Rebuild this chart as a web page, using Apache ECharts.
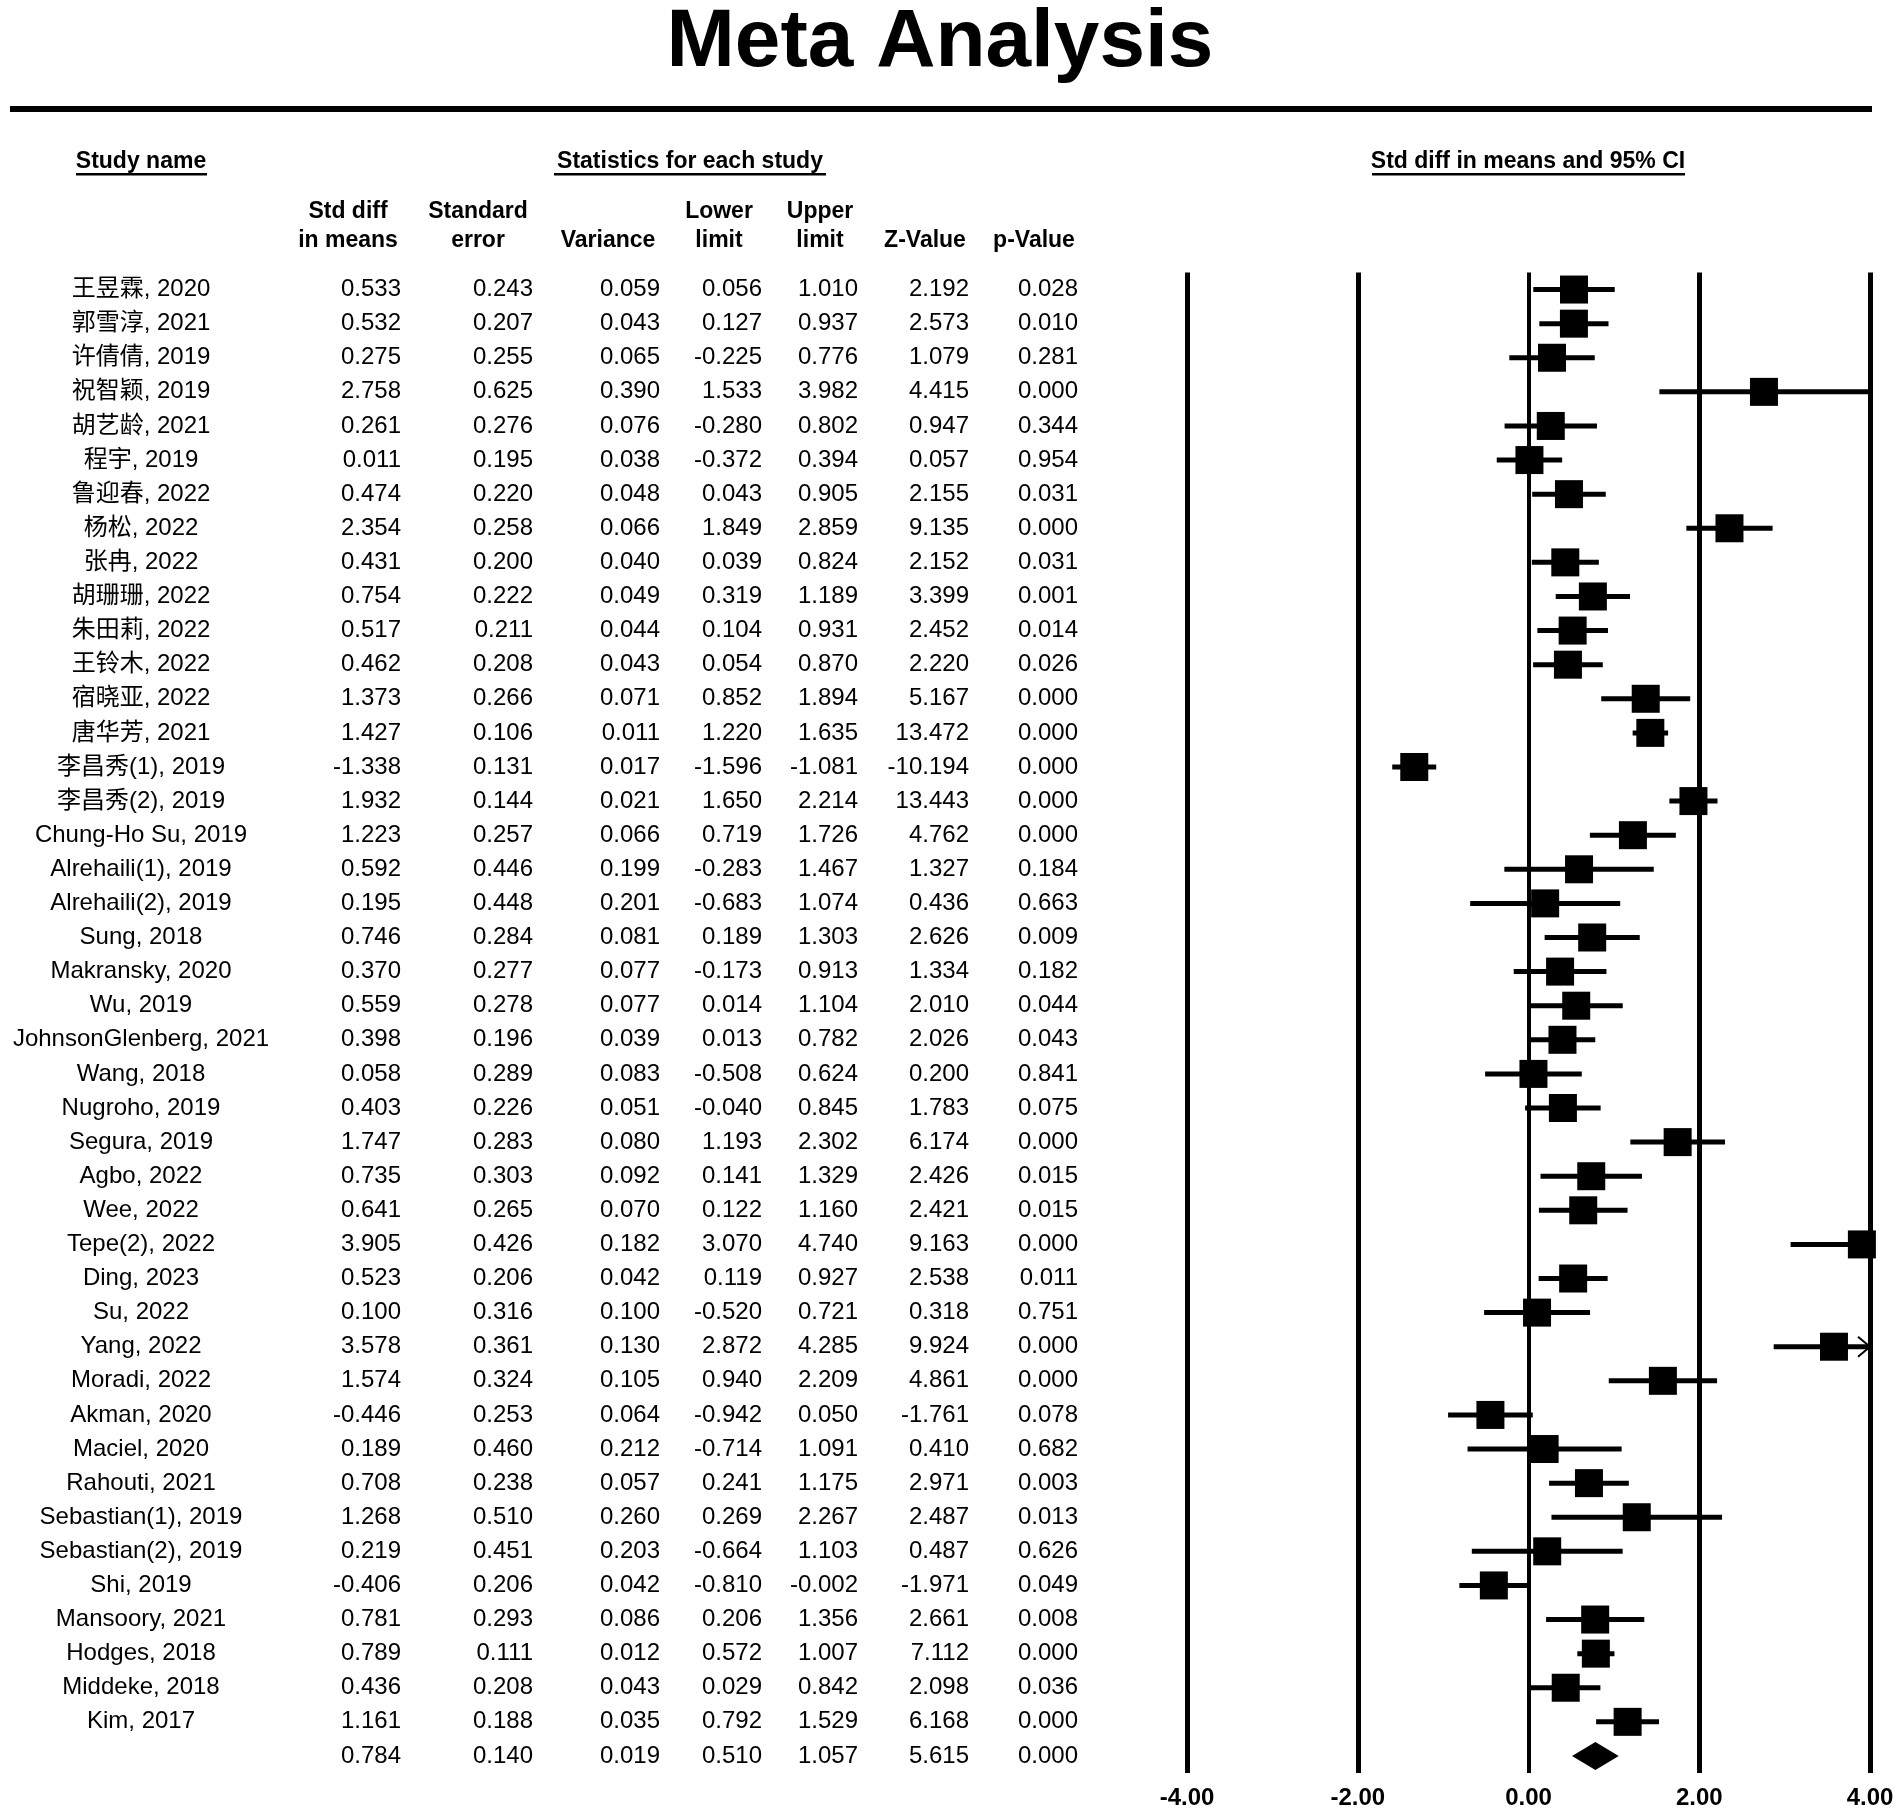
<!DOCTYPE html>
<html><head><meta charset="utf-8">
<script src="https://cdn.jsdelivr.net/npm/echarts@6/dist/echarts.min.js"></script>
<style>html,body{margin:0;padding:0;background:#fff}#c{width:1902px;height:1811px}</style>
</head><body><div id="c"></div>
<script>
const studyNames = ['王昱霖, 2020','郭雪淳, 2021','许倩倩, 2019','祝智颖, 2019','胡艺龄, 2021','程宇, 2019','鲁迎春, 2022','杨松, 2022','张冉, 2022','胡珊珊, 2022','朱田莉, 2022','王铃木, 2022','宿晓亚, 2022','唐华芳, 2021','李昌秀(1), 2019','李昌秀(2), 2019','Chung-Ho Su, 2019','Alrehaili(1), 2019','Alrehaili(2), 2019','Sung, 2018','Makransky, 2020','Wu, 2019','JohnsonGlenberg, 2021','Wang, 2018','Nugroho, 2019','Segura, 2019','Agbo, 2022','Wee, 2022','Tepe(2), 2022','Ding, 2023','Su, 2022','Yang, 2022','Moradi, 2022','Akman, 2020','Maciel, 2020','Rahouti, 2021','Sebastian(1), 2019','Sebastian(2), 2019','Shi, 2019','Mansoory, 2021','Hodges, 2018','Middeke, 2018','Kim, 2017'];
const stdDiff = [0.533,0.532,0.275,2.758,0.261,0.011,0.474,2.354,0.431,0.754,0.517,0.462,1.373,1.427,-1.338,1.932,1.223,0.592,0.195,0.746,0.370,0.559,0.398,0.058,0.403,1.747,0.735,0.641,3.905,0.523,0.100,3.578,1.574,-0.446,0.189,0.708,1.268,0.219,-0.406,0.781,0.789,0.436,1.161];
const stdErr = [0.243,0.207,0.255,0.625,0.276,0.195,0.220,0.258,0.200,0.222,0.211,0.208,0.266,0.106,0.131,0.144,0.257,0.446,0.448,0.284,0.277,0.278,0.196,0.289,0.226,0.283,0.303,0.265,0.426,0.206,0.316,0.361,0.324,0.253,0.460,0.238,0.510,0.451,0.206,0.293,0.111,0.208,0.188];
const variance = [0.059,0.043,0.065,0.390,0.076,0.038,0.048,0.066,0.040,0.049,0.044,0.043,0.071,0.011,0.017,0.021,0.066,0.199,0.201,0.081,0.077,0.077,0.039,0.083,0.051,0.080,0.092,0.070,0.182,0.042,0.100,0.130,0.105,0.064,0.212,0.057,0.260,0.203,0.042,0.086,0.012,0.043,0.035];
const lowerLimit = [0.056,0.127,-0.225,1.533,-0.280,-0.372,0.043,1.849,0.039,0.319,0.104,0.054,0.852,1.220,-1.596,1.650,0.719,-0.283,-0.683,0.189,-0.173,0.014,0.013,-0.508,-0.040,1.193,0.141,0.122,3.070,0.119,-0.520,2.872,0.940,-0.942,-0.714,0.241,0.269,-0.664,-0.810,0.206,0.572,0.029,0.792];
const upperLimit = [1.010,0.937,0.776,3.982,0.802,0.394,0.905,2.859,0.824,1.189,0.931,0.870,1.894,1.635,-1.081,2.214,1.726,1.467,1.074,1.303,0.913,1.104,0.782,0.624,0.845,2.302,1.329,1.160,4.740,0.927,0.721,4.285,2.209,0.050,1.091,1.175,2.267,1.103,-0.002,1.356,1.007,0.842,1.529];
const zValue = [2.192,2.573,1.079,4.415,0.947,0.057,2.155,9.135,2.152,3.399,2.452,2.220,5.167,13.472,-10.194,13.443,4.762,1.327,0.436,2.626,1.334,2.010,2.026,0.200,1.783,6.174,2.426,2.421,9.163,2.538,0.318,9.924,4.861,-1.761,0.410,2.971,2.487,0.487,-1.971,2.661,7.112,2.098,6.168];
const pValue = [0.028,0.010,0.281,0.000,0.344,0.954,0.031,0.000,0.031,0.001,0.014,0.026,0.000,0.000,0.000,0.000,0.000,0.184,0.663,0.009,0.182,0.044,0.043,0.841,0.075,0.000,0.015,0.015,0.000,0.011,0.751,0.000,0.000,0.078,0.682,0.003,0.013,0.626,0.049,0.008,0.000,0.036,0.000];
// overall: std diff, std err, variance, lower, upper, z, p
const summaryStats = [0.784,0.140,0.019,0.510,1.057,5.615,0.000];
const xTicks = [-4,-2,0,2,4];
const columnHeaders = [['Std diff','in means'],['Standard','error'],['','Variance'],['Lower','limit'],['Upper','limit'],['','Z-Value'],['','p-Value']];

const FONT = '"Liberation Sans", Arial, "Noto Sans CJK SC", sans-serif';
const X_MIN = -4, X_MAX = 4;
const GL = 1187, GR = 1870, GT = 272.5, GB = 1773;
const fmt3 = v => v.toFixed(3);

const numCols = [stdDiff, stdErr, variance, lowerLimit, upperLimit, zValue, pValue];
const colRight = [401, 533, 660, 762, 858, 969, 1078];
const colCenter = [348, 478, 608, 719, 820, 925, 1034];

const labelBase = {interval: 0, margin: 0, fontSize: 24, color: '#000', fontFamily: FONT, padding: [7, 0, 0, 0]};
const yAxes = [{
  type: 'category', inverse: true, data: studyNames.concat(['']), position: 'left',
  offset: GL - 141, axisLine: {show: false}, axisTick: {show: false}, splitLine: {show: false},
  axisLabel: Object.assign({align: 'center'}, labelBase)
}];
numCols.forEach((arr, k) => {
  yAxes.push({
    type: 'category', inverse: true, data: arr.map(fmt3).concat([fmt3(summaryStats[k])]), position: 'left',
    offset: GL - colRight[k], axisLine: {show: false}, axisTick: {show: false}, splitLine: {show: false},
    axisLabel: Object.assign({align: 'right'}, labelBase)
  });
});

const graphics = [
  {type: 'text', x: 940, y: 43, style: {text: 'Meta Analysis', font: 'bold 82px ' + FONT, fill: '#000', textAlign: 'center', textVerticalAlign: 'middle'}},
  {type: 'rect', shape: {x: 10, y: 106, width: 1862, height: 6}, style: {fill: '#000'}},
];
const topHeads = [['Study name', 141, 76, 207], ['Statistics for each study', 690, 554, 826], ['Std diff in means and 95% CI', 1528, 1372, 1685]];
topHeads.forEach(h => {
  graphics.push({type: 'text', x: h[1], y: 161.5, style: {text: h[0], font: 'bold 23px ' + FONT, fill: '#000', textAlign: 'center', textVerticalAlign: 'middle'}});
  graphics.push({type: 'rect', shape: {x: h[2], y: 173, width: h[3] - h[2], height: 2.5}, style: {fill: '#000'}});
});
columnHeaders.forEach((h, k) => {
  h.forEach((t, j) => {
    if (!t) return;
    graphics.push({type: 'text', x: colCenter[k], y: 211.5 + j * 29, style: {text: t, font: 'bold 23px ' + FONT, fill: '#000', textAlign: 'center', textVerticalAlign: 'middle'}});
  });
});

const whiskerData = studyNames.map((_, i) => [lowerLimit[i], upperLimit[i], i]);
const pointData = studyNames.map((_, i) => [stdDiff[i], i]);
const diamondData = [[summaryStats[3], summaryStats[0], summaryStats[4], studyNames.length]];

const chart = echarts.init(document.getElementById('c'), null, {renderer: 'canvas'});
chart.setOption({
  backgroundColor: '#fff',
  animation: false,
  graphic: graphics,
  grid: {left: GL, right: 1902 - GR, top: GT, bottom: 1811 - GB, containLabel: false},
  xAxis: {
    type: 'value', min: X_MIN, max: X_MAX, interval: 2,
    axisLine: {show: false}, axisTick: {show: false}, splitLine: {show: false},
    axisLabel: {formatter: v => v.toFixed(2), fontSize: 24, fontWeight: 'bold', color: '#000', margin: 13, fontFamily: FONT}
  },
  yAxis: yAxes,
  series: [
    {
      type: 'custom', name: 'ci', z: 2, clip: false, yAxisIndex: 0,
      data: whiskerData, encode: {x: [0, 1], y: 2},
      renderItem: function (params, api) {
        const lo = api.value(0), hi = api.value(1), y = api.value(2);
        const a = api.coord([Math.max(lo, X_MIN), y]);
        const b = api.coord([Math.min(hi, X_MAX), y]);
        const ch = [{type: 'line', shape: {x1: a[0], y1: a[1], x2: b[0], y2: b[1]}, style: {stroke: '#000', lineWidth: 5}}];
        if (hi > X_MAX) {
          ch.push({type: 'polyline', shape: {points: [[b[0] - 12, b[1] - 10], [b[0], b[1]], [b[0] - 12, b[1] + 10]]}, style: {stroke: '#000', lineWidth: 2, fill: null}});
        }
        return {type: 'group', children: ch};
      }
    },
    {
      type: 'scatter', name: 'effect', z: 3, yAxisIndex: 0,
      symbol: 'rect', symbolSize: 28, itemStyle: {color: '#000', opacity: 1},
      data: pointData,
      markLine: {
        silent: true, symbol: ['none', 'none'], label: {show: false}, z: 1,
        data: xTicks.map(v => ({xAxis: v, lineStyle: {color: '#000', type: 'solid', width: v === 0 ? 4 : 5}}))
      }
    },
    {
      type: 'custom', name: 'summary', z: 3, clip: false, yAxisIndex: 0,
      data: diamondData, encode: {x: [0, 1, 2], y: 3},
      renderItem: function (params, api) {
        const y = api.value(3);
        const l = api.coord([api.value(0), y]);
        const m = api.coord([api.value(1), y]);
        const r = api.coord([api.value(2), y]);
        const h = 14;
        return {type: 'polygon', shape: {points: [[l[0], l[1]], [m[0], m[1] - h], [r[0], r[1]], [m[0], m[1] + h]]}, style: {fill: '#000'}};
      }
    }
  ]
});
</script>
</body></html>
